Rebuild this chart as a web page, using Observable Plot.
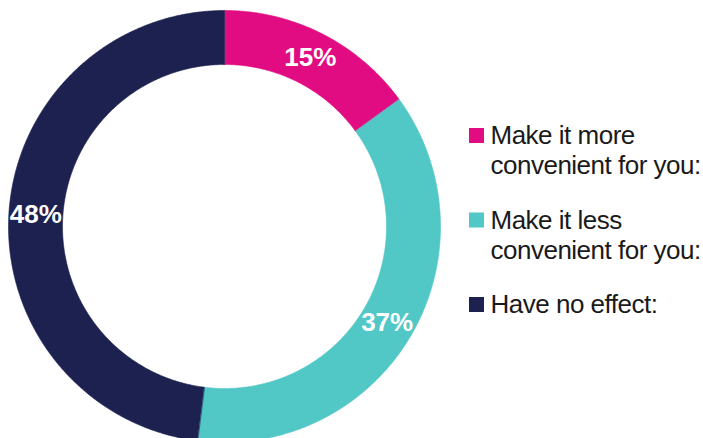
<!DOCTYPE html>
<html>
<head>
<meta charset="utf-8">
<script src="https://cdn.jsdelivr.net/npm/d3@7"></script>
<script src="https://cdn.jsdelivr.net/npm/@observablehq/plot@0.6"></script>
<style>
  html, body { margin: 0; padding: 0; background: #ffffff; }
  #chart svg { display: block; }
  .legend-text text { letter-spacing: -0.5px; }
</style>
</head>
<body>
<div id="chart"></div>
<script>
// ---- data ----
const categories = ["Make it more\nconvenient for you:", "Make it less\nconvenient for you:", "Have no effect:"];
const values = [15, 37, 48];
const labels = ["15%", "37%", "48%"];
const colors = ["#E20C82", "#52C8C6", "#1D2150"];

// ---- layout constants ----
const W = 703, H = 438;
const cx = 224, cy = 226, rOuter = 216, rInner = 162;
const font = "'Liberation Sans', Arial, Helvetica, sans-serif";

const pie = d3.pie().sort(null).value(d => d.value).startAngle(0).endAngle(2 * Math.PI);
const slices = pie(categories.map((c, i) => ({category: c, value: values[i], label: labels[i]})));

// polygon points for each ring slice
const ringPts = [];
for (const s of slices) {
  const n = Math.max(2, Math.ceil((s.endAngle - s.startAngle) / (Math.PI / 360)));
  for (let k = 0; k <= n; k++) {
    const a = s.startAngle + (s.endAngle - s.startAngle) * k / n;
    ringPts.push({category: s.data.category, x: cx + rOuter * Math.sin(a), y: cy - rOuter * Math.cos(a)});
  }
  for (let k = n; k >= 0; k--) {
    const a = s.startAngle + (s.endAngle - s.startAngle) * k / n;
    ringPts.push({category: s.data.category, x: cx + rInner * Math.sin(a), y: cy - rInner * Math.cos(a)});
  }
}

const rMid = (rOuter + rInner) / 2;
const labelPts = slices.map(s => {
  const a = (s.startAngle + s.endAngle) / 2;
  return {label: s.data.label, x: cx + rMid * Math.sin(a), y: cy - rMid * Math.cos(a)};
});

// legend
const legX = 469, legSize = 15, legTop0 = 128, legStep = 84.5, lineStep = 30;
const legSquares = categories.map((c, i) => ({category: c, x1: legX, x2: legX + legSize, y1: legTop0 + i * legStep, y2: legTop0 + i * legStep + legSize}));
const legLines = [];
categories.forEach((c, i) => {
  c.split("\n").forEach((t, j) => {
    legLines.push({text: t, x: 490, y: legTop0 + legSize + 0.5 + i * legStep + j * lineStep});
  });
});

const chart = Plot.plot({
  width: W,
  height: H,
  margin: 0,
  x: {domain: [0, W], range: [0, W], axis: null},
  y: {domain: [0, H], range: [0, H], axis: null},
  color: {domain: categories, range: colors},
  style: {background: "#ffffff"},
  marks: [
    Plot.line(ringPts, {x: "x", y: "y", z: "category", fill: "category", stroke: "category", strokeWidth: 0.6, curve: "linear-closed"}),
    Plot.text(labelPts, {x: "x", y: "y", text: "label", fill: "#ffffff", fontSize: 26, fontWeight: "bold", fontFamily: font, textAnchor: "middle", lineAnchor: "middle"}),
    Plot.rect(legSquares, {x1: "x1", x2: "x2", y1: "y1", y2: "y2", fill: "category"}),
    Plot.text(legLines, {x: "x", y: "y", text: "text", fill: "#1a1a1a", fontSize: 26, fontFamily: font, textAnchor: "start", lineAnchor: "bottom", className: "legend-text"})
  ]
});

document.getElementById("chart").appendChild(chart);
</script>
</body>
</html>
